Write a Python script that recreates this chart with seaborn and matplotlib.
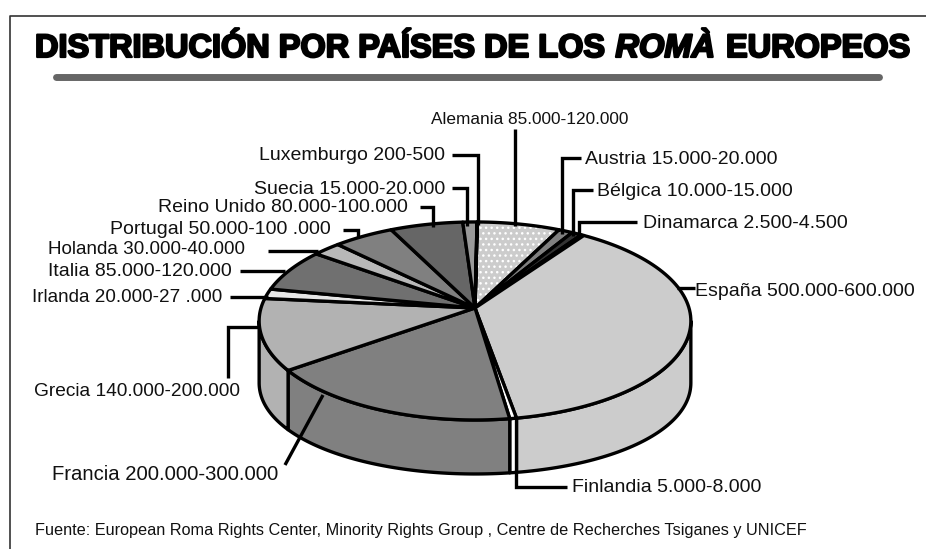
"""Distribucion por paises de los Roma europeos, 3D pie."""

import numpy as np
import seaborn as sns
from matplotlib import patheffects as pe
from matplotlib import pyplot as plt

# clockwise from the top, midpoints of the ranges printed in the labels
countries = ["Alemania", "Austria", "Bélgica", "Dinamarca", "España", "Finlandia", "Francia", "Grecia",
             "Irlanda", "Italia", "Holanda", "Portugal", "Reino Unido", "Suecia", "Luxemburgo"]
midpoints = [102500, 17500, 12500, 3500, 550000, 6500, 250000, 170000,
             23500, 102500, 35000, 75000, 90000, 17500, 350]
ranges = ["85.000-120.000", "15.000-20.000", "10.000-15.000", "2.500-4.500", "500.000-600.000", "5.000-8.000",
          "200.000-300.000", "140.000-200.000", "20.000-27 .000", "85.000-120.000", "30.000-40.000",
          "50.000-100 .000", "80.000-100.000", "15.000-20.000", "200-500"]
greys = ["#cccccc", "#808080", "#333333", "#000000", "#cccccc", "#ffffff", "#808080", "#b2b2b2",
         "#e6e6e6", "#707070", "#b8b8b8", "#808080", "#666666", "#999999", "#000000"]

# label anchor and alignment, then leader path, in figure pixels
layout = {
    "Alemania": ((431, 120, "left"), [(515, 129), (515, 226)]),
    "Austria": ((585, 159, "left"), [(581, 158), (562, 158), (562, 234)]),
    "Bélgica": ((597, 191, "left"), [(593, 190), (573, 190), (573, 236)]),
    "Dinamarca": ((643, 223, "left"), [(637, 222), (579, 222), (579, 238)]),
    "España": ((695, 291, "left"), [(695, 288), (677, 288)]),
    "Finlandia": ((572, 487, "left"), [(516, 473), (516, 487), (567, 487)]),
    "Francia": ((278, 475, "right"), [(323, 395), (285, 465)]),
    "Grecia": ((240, 392, "right"), [(258, 327), (228, 327), (228, 378)]),
    "Irlanda": ((222, 298, "right"), [(230, 297), (268, 297)]),
    "Italia": ((232, 272, "right"), [(240, 271), (285, 271)]),
    "Holanda": ((245, 250, "right"), [(268, 251), (318, 251)]),
    "Portugal": ((331, 230, "right"), [(343, 230), (358, 230), (358, 238)]),
    "Reino Unido": ((408, 208, "right"), [(420, 207), (433, 207), (433, 227)]),
    "Suecia": ((445, 189, "right"), [(452, 188), (467, 188), (467, 226)]),
    "Luxemburgo": ((445, 156, "right"), [(452, 155), (478, 155), (478, 225)]),
}
label_sizes = {"Alemania": 12.4, "Francia": 14.6, "Grecia": 13.8, "Irlanda": 13.6, "Holanda": 13.6}

WIDTH, HEIGHT = 926, 549
APEX_X, APEX_Y = 475, 308
SCALE_X, SCALE_Y, PERSPECTIVE = 214, 97.3, 0.131
DEPTH, SIDE_DROP = 54, 8
START = 0.7
LINE = 2.4


def rim(angles):
    """Project pie angles (degrees clockwise from the top) onto the tilted disc."""
    t = np.radians(angles)
    w = 1 + PERSPECTIVE * np.cos(t)
    return APEX_X + SCALE_X * np.sin(t) / w, APEX_Y - SCALE_Y * np.cos(t) / w


sns.set_theme(style="white")
plt.rcParams["font.family"] = ["Liberation Sans", "DejaVu Sans"]

fig = plt.figure(figsize=(WIDTH / 100, HEIGHT / 100), dpi=100)
ax = fig.add_axes([0, 0, 1, 1])
ax.set_xlim(0, WIDTH)
ax.set_ylim(HEIGHT, 0)
ax.axis("off")

edges = START + np.concatenate([[0], np.cumsum(midpoints)]) / sum(midpoints) * 360
front_from = np.degrees(np.arccos(-PERSPECTIVE))
front_to = 360 - front_from

# side wall, only the part facing the viewer
for a, b, grey in zip(edges[:-1], edges[1:], greys):
    lo, hi = max(a, front_from), min(b, front_to)
    if lo >= hi:
        continue
    angles = np.linspace(lo, hi, 60)
    x, y = rim(angles)
    low = y + DEPTH + SIDE_DROP * np.sin(np.radians(angles)) ** 2
    ax.fill(np.r_[x, x[::-1]], np.r_[y, low[::-1]], facecolor=grey, edgecolor="black",
            linewidth=LINE, joinstyle="round")

# top of the disc
for a, b, grey, name in zip(edges[:-1], edges[1:], greys, countries):
    x, y = rim(np.linspace(a, b, 80))
    px, py = np.r_[APEX_X, x], np.r_[APEX_Y, y]
    if name == "Alemania":
        ax.fill(px, py, facecolor=grey, edgecolor="white", hatch="...", linewidth=0)
        ax.fill(px, py, facecolor="none", edgecolor="black", linewidth=LINE, joinstyle="round")
    else:
        ax.fill(px, py, facecolor=grey, edgecolor="black", linewidth=LINE, joinstyle="round")

for name, span in zip(countries, ranges):
    (tx, ty, align), path = layout[name]
    ax.text(tx, ty, f"{name} {span}", ha=align, va="center", color="#111111",
            fontsize=label_sizes.get(name, 14))
    ax.plot(*zip(*path), color="black", lw=LINE, solid_capstyle="butt", solid_joinstyle="miter")

# frame and rule under the title
ax.plot([9.5, 9.5, WIDTH], [HEIGHT, 16, 16], color="#333333", lw=1.2)
ax.plot([56, 879], [77, 77], color="#666666", lw=5, solid_capstyle="round")

heavy = [pe.withStroke(linewidth=1.6, foreground="black")]
first = ax.text(35, 57, "DISTRIBUCIÓN POR PAÍSES DE LOS", fontsize=23.4, fontweight="bold", color="black",
                va="baseline", path_effects=heavy)
second = ax.annotate("ROMÀ", xy=(1, 0), xycoords=first, xytext=(8, 0), textcoords="offset points", fontsize=23.5,
                     fontweight="bold", fontstyle="italic", va="bottom", color="black", path_effects=heavy)
ax.annotate("EUROPEOS", xy=(1, 0), xycoords=second, xytext=(8, 0), textcoords="offset points", fontsize=23.4,
            fontweight="bold", va="bottom", color="black", path_effects=heavy)

ax.text(35, 530, "Fuente: European Roma Rights Center, Minority Rights Group , Centre de Recherches Tsiganes y UNICEF",
        fontsize=11.7, va="center", color="#111111")

fig.savefig("out.png", dpi=100)
